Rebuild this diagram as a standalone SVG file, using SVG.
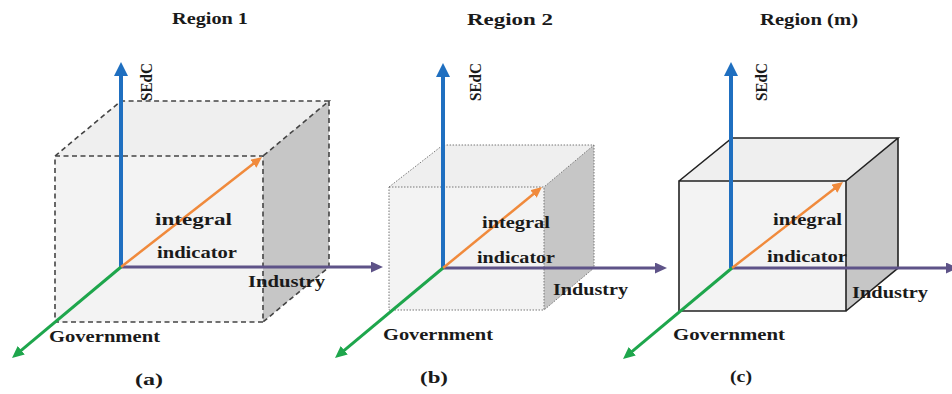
<svg xmlns="http://www.w3.org/2000/svg" width="952" height="394" viewBox="0 0 952 394">
<defs>
<style>
text{font-family:"Liberation Serif","Times New Roman",serif;font-weight:bold;font-size:16.5px;fill:#1a1a1a}
.front{fill:#f3f3f3}
.top{fill:#efefef}
.side{fill:#c6c6c6}
.ea{fill:none;stroke:#444;stroke-width:1.6;stroke-dasharray:5 3.5}
.eb{fill:none;stroke:#777;stroke-width:1;stroke-dasharray:1.5 1.5}
.ec{fill:none;stroke:#222;stroke-width:1.6}
.ax{fill:none}
.blue{stroke:#1f6fc0;stroke-width:4}
.purple{stroke:#5e5388;stroke-width:3}
.orange{stroke:#f08a3c;stroke-width:2.5}
.green{stroke:#1ea64c;stroke-width:3}
</style>
<marker id="mBlue" markerUnits="userSpaceOnUse" markerWidth="14" markerHeight="14" refX="3" refY="7" orient="auto"><path d="M0,0 L14,7 L0,14 z" fill="#1f6fc0"/></marker>
<marker id="mPurple" markerUnits="userSpaceOnUse" markerWidth="12" markerHeight="11" refX="2" refY="5.5" orient="auto"><path d="M0,0 L12,5.5 L0,11 z" fill="#5e5388"/></marker>
<marker id="mOrange" markerUnits="userSpaceOnUse" markerWidth="11" markerHeight="10" refX="2" refY="5" orient="auto"><path d="M0,0 L11,5 L0,10 z" fill="#f08a3c"/></marker>
<marker id="mGreen" markerUnits="userSpaceOnUse" markerWidth="12" markerHeight="11" refX="2" refY="5.5" orient="auto"><path d="M0,0 L12,5.5 L0,11 z" fill="#1ea64c"/></marker>
</defs>
<rect width="952" height="394" fill="#ffffff"/>

<!-- Panel (a) -->
<g id="boxA">
<polygon class="top" points="55,156 121,101 329,101 263,156"/>
<rect class="front" x="55" y="156" width="208" height="166"/>
<polygon class="side" points="263,156 329,101 329,267 263,322"/>
<path class="ea" d="M55,156 H263 V322 H55 Z M55,156 L121,101 H329 L263,156 M329,101 V267 L263,322"/>
</g>
<g id="axesA">
<line class="ax purple" x1="121" y1="267" x2="373" y2="267" marker-end="url(#mPurple)"/>
<line class="ax blue" x1="121" y1="267" x2="121" y2="73" marker-end="url(#mBlue)"/>
<line class="ax orange" x1="121" y1="267" x2="254.9" y2="162.5" marker-end="url(#mOrange)"/>
<line class="ax green" x1="121" y1="267" x2="19.7" y2="351.6" marker-end="url(#mGreen)"/>
</g>
<g id="labelsA">
<text x="172" y="24" textLength="76" lengthAdjust="spacingAndGlyphs">Region 1</text>
<text transform="translate(152,101) rotate(-90)" textLength="38" lengthAdjust="spacingAndGlyphs">SEdC</text>
<text x="155" y="225" textLength="77" lengthAdjust="spacingAndGlyphs">integral</text>
<text x="157" y="258" textLength="80" lengthAdjust="spacingAndGlyphs">indicator</text>
<text x="248" y="287" textLength="77" lengthAdjust="spacingAndGlyphs">Industry</text>
<text x="49" y="342" textLength="111" lengthAdjust="spacingAndGlyphs">Government</text>
<text x="135" y="385" textLength="28" lengthAdjust="spacingAndGlyphs">(a)</text>
</g>

<!-- Panel (b) -->
<g id="boxB">
<polygon class="top" points="389,187 443,145 594,145 544,187"/>
<rect class="front" x="389" y="187" width="155" height="123"/>
<polygon class="side" points="544,187 594,145 594,268 544,310"/>
<path class="eb" d="M389,187 H544 V310 H389 Z M389,187 L443,145 H594 L544,187 M594,145 V268 L544,310"/>
</g>
<g id="axesB">
<line class="ax purple" x1="443" y1="268" x2="657" y2="268" marker-end="url(#mPurple)"/>
<line class="ax blue" x1="443" y1="268" x2="443" y2="74" marker-end="url(#mBlue)"/>
<line class="ax orange" x1="443" y1="268" x2="535" y2="192.7" marker-end="url(#mOrange)"/>
<line class="ax green" x1="443" y1="268" x2="342.7" y2="351.6" marker-end="url(#mGreen)"/>
</g>
<g id="labelsB">
<text x="467" y="25" textLength="86" lengthAdjust="spacingAndGlyphs">Region 2</text>
<text transform="translate(481,101) rotate(-90)" textLength="38" lengthAdjust="spacingAndGlyphs">SEdC</text>
<text x="482" y="228" textLength="68" lengthAdjust="spacingAndGlyphs">integral</text>
<text x="477" y="263" textLength="78" lengthAdjust="spacingAndGlyphs">indicator</text>
<text x="553" y="295" textLength="75" lengthAdjust="spacingAndGlyphs">Industry</text>
<text x="383" y="340" textLength="110" lengthAdjust="spacingAndGlyphs">Government</text>
<text x="420" y="383" textLength="28" lengthAdjust="spacingAndGlyphs">(b)</text>
</g>

<!-- Panel (c) -->
<g id="boxC">
<polygon class="top" points="679,181 732,138 898,138 846,181"/>
<rect class="front" x="679" y="181" width="167" height="130"/>
<polygon class="side" points="846,181 898,138 898,268 846,311"/>
<path class="ec" d="M679,181 H846 V311 H679 Z M679,181 L732,138 H898 L846,181 M898,138 V268 L846,311"/>
</g>
<g id="axesC">
<line class="ax purple" x1="732" y1="268" x2="948" y2="268" marker-end="url(#mPurple)"/>
<line class="ax blue" x1="731" y1="268" x2="731" y2="73" marker-end="url(#mBlue)"/>
<line class="ax orange" x1="732" y1="268" x2="835.9" y2="187.5" marker-end="url(#mOrange)"/>
<line class="ax green" x1="732" y1="268" x2="630.7" y2="352.6" marker-end="url(#mGreen)"/>
</g>
<g id="labelsC">
<text x="760" y="25" textLength="98" lengthAdjust="spacingAndGlyphs">Region (m)</text>
<text transform="translate(767,101) rotate(-90)" textLength="38" lengthAdjust="spacingAndGlyphs">SEdC</text>
<text x="773" y="225" textLength="69" lengthAdjust="spacingAndGlyphs">integral</text>
<text x="767" y="262" textLength="80" lengthAdjust="spacingAndGlyphs">indicator</text>
<text x="852" y="298" textLength="76" lengthAdjust="spacingAndGlyphs">Industry</text>
<text x="673" y="340" textLength="112" lengthAdjust="spacingAndGlyphs">Government</text>
<text x="730" y="382" textLength="22" lengthAdjust="spacingAndGlyphs">(c)</text>
</g>
</svg>
